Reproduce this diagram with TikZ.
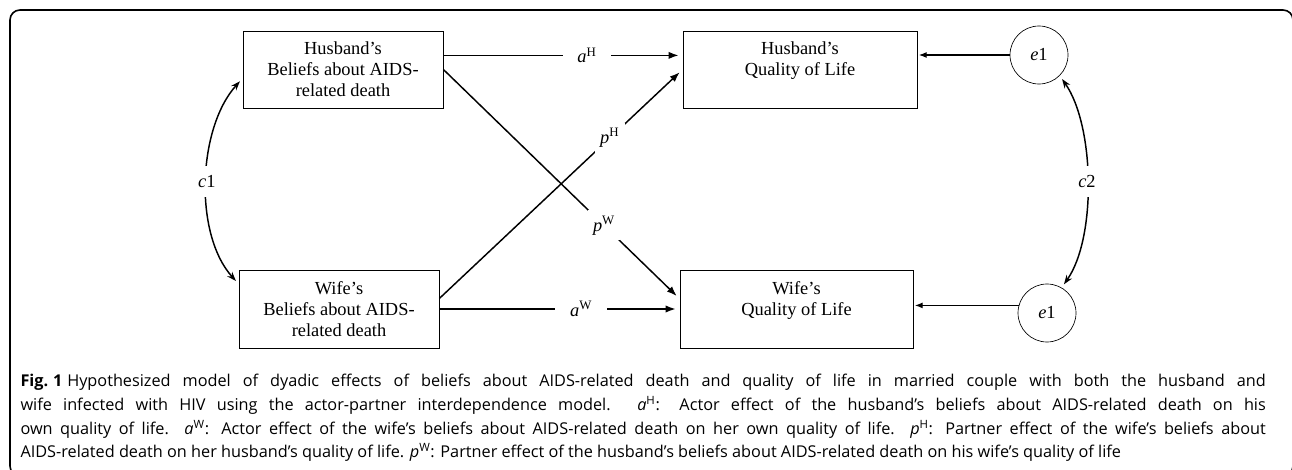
\documentclass[tikz,border=0pt]{standalone}
\usepackage{fontspec}
\setmainfont{Liberation Serif}
\newfontfamily\capfont{Open Sans}
\usetikzlibrary{arrows.meta,calc}

\tikzset{every picture/.style={line width=0.75pt}}
\tikzset{
  box/.style={draw, line width=0.6pt, inner sep=0pt, align=center,
    font=\fontsize{13.8}{15.8}\selectfont},
  errnode/.style={draw, circle, line width=0.5pt, minimum size=43.5pt, inner sep=0pt,
    font=\fontsize{13.8}{15.8}\selectfont},
  effect/.style={-{Latex[length=7.5pt,width=5.5pt]}, line width=1.1pt, shorten >=3pt},
  errarrow/.style={-{Latex[length=6pt,width=4.5pt]}, line width=0.9pt, shorten >=1pt},
  covarrow/.style={{Stealth[length=7pt,width=5pt]}-{Stealth[length=7pt,width=5pt]},
    line width=1.1pt, shorten >=3pt, shorten <=3pt},
  lbl/.style={fill=white, inner xsep=11pt, inner ysep=2pt,
    font=\fontsize{13.8}{15.8}\selectfont},
  dlbl/.style={fill=white, inner sep=4pt, font=\fontsize{13.8}{15.8}\selectfont},
  clbl/.style={fill=white, inner xsep=2pt, inner ysep=7pt, font=\fontsize{13.8}{15.8}\selectfont},
  capline/.style={anchor=base west, inner sep=0pt, font=\capfont\fontsize{12.2}{14}\selectfont}
}
\newcommand{\fullline}[1]{\makebox[934pt][s]{#1}}

\begin{document}
\begin{tikzpicture}[x=0.75pt,y=0.75pt,yscale=-1,xscale=1]
  \clip (0,0) rectangle (1292,470);
  \useasboundingbox (0,0) rectangle (1292,470);
  % frame
  \draw [line width=1.2pt, rounded corners=7.5pt] (10,10) rectangle (1293,476);

  % boxes
  \node [box, minimum width=150pt, minimum height=57.75pt] (hb) at (343,69.5) {Husband’s\\Beliefs about AIDS-\\related death};
  \node [box, minimum width=175.5pt, minimum height=57.75pt] (hq) at (800,69.5) {Husband’s\\Quality of Life\\\mbox{}};
  \node [box, minimum width=150pt, minimum height=58.5pt] (wb) at (339,309) {Wife’s\\Beliefs about AIDS-\\related death};
  \node [box, minimum width=174.75pt, minimum height=58.5pt] (wq) at (796.5,309) {Wife’s\\Quality of Life\\\mbox{}};
  \node [errnode] (e1t) at (1039,55) {\textit{e}1};
  \node [errnode] (e1b) at (1047,313) {\textit{e}1};

  % actor and partner effects
  \draw [effect] (hb.8) -- (hb.8 -| hq.west) node [lbl, pos=0.6] {\textit{a}\textsuperscript{H}};
  \draw [effect] (wb.6) -- (hq.west) node [dlbl, pos=0.7] {\textit{p}\textsuperscript{H}};
  \draw [effect] (hb.east) -- (wq.175) node [dlbl, pos=0.68] {\textit{p}\textsuperscript{W}};
  \draw [effect] (wb.east) -- (wq.west) node [lbl, pos=0.59] {\textit{a}\textsuperscript{W}};

  % errors
  \draw [errarrow] (e1t.west) -- (e1t.west -| hq.east);
  \draw [errarrow] (e1b.165) -- (e1b.165 -| wq.east);

  % covariances
  \draw [covarrow] (hb.185) .. controls +(-45,50) and +(-45,-50) .. (wb.166) node [clbl, pos=0.5] {\textit{c}1};
  \draw [covarrow] (e1t.-45) .. controls +(35,50) and +(35,-50) .. (e1b.60) node [clbl, pos=0.5] {\textit{c}2};

  % caption
  \node [capline] (cap1) at (20,386) {\fullline{\textbf{Fig.\kern0.3em1}\kern0.3em Hypothesized model of dyadic effects of beliefs about AIDS-related death and quality of life in married couple with both the husband and}};
  \node [capline] (cap2) at (20,410) {\fullline{wife infected with HIV using the actor-partner interdependence model. \textit{a}\textsuperscript{H}: Actor effect of the husband’s beliefs about AIDS-related death on his}};
  \node [capline] (cap3) at (20,434) {\fullline{own quality of life. \textit{a}\textsuperscript{W}: Actor effect of the wife’s beliefs about AIDS-related death on her own quality of life. \textit{p}\textsuperscript{H}: Partner effect of the wife’s beliefs about}};
  \node [capline] (cap4) at (20,457) {AIDS-related death on her husband’s quality of life. \textit{p}\textsuperscript{W}: Partner effect of the husband’s beliefs about AIDS-related death on his wife’s quality of life};
\end{tikzpicture}
\end{document}
